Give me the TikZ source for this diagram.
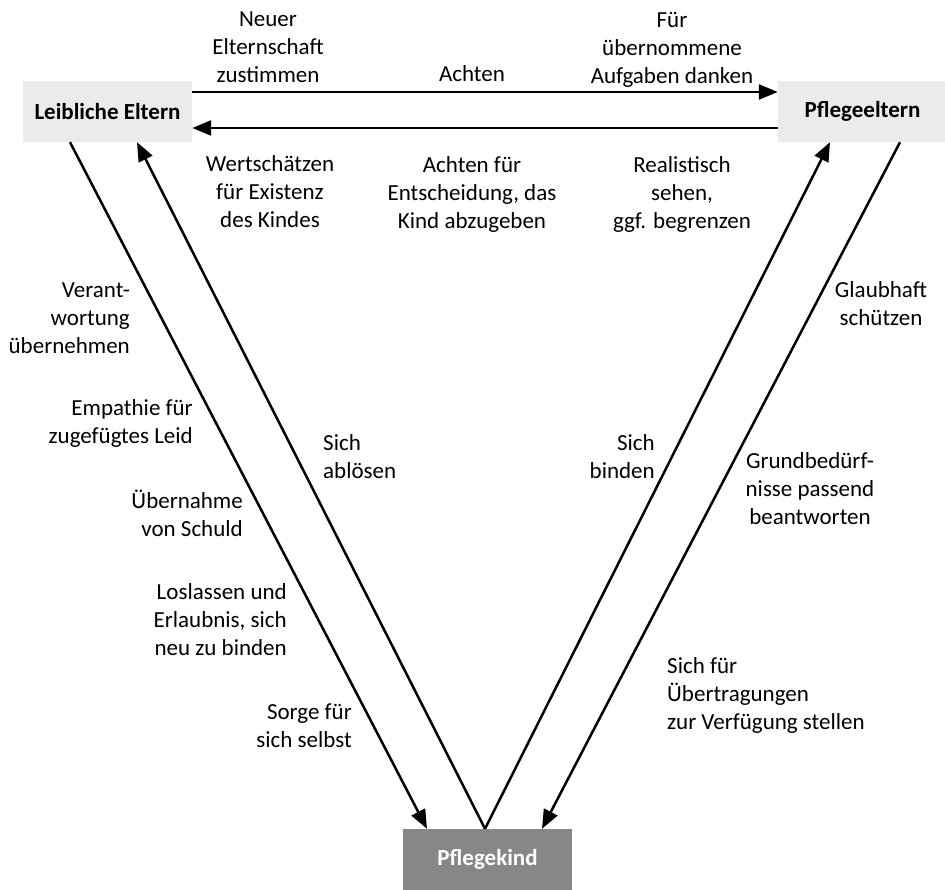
\documentclass[tikz,border=0pt]{standalone}
\usepackage{fontspec}
\setmainfont{Carlito}
\usetikzlibrary{arrows.meta,positioning}

\begin{document}
\begin{tikzpicture}[x=1pt,y=1pt,>={Triangle[length=19pt,width=15pt]},
	every node/.style={font=\fontsize{23}{28}\selectfont},
	box/.style={fill=black!8,minimum width=169pt,minimum height=61pt,font=\fontsize{23}{28}\selectfont\bfseries},
	kidbox/.style={box,fill=black!47,text=white},
	lbl/.style={align=center,inner sep=0pt},
	conn/.style={line width=2.5pt}]
	\useasboundingbox (0,0) rectangle (945,889);

	\node[box] (le) at (107.5,777.5) {Leibliche Eltern};
	\node[box] (pe) at (862.5,777.5) {Pflegeeltern};
	\node[kidbox] (pk) at (487.5,29.5) {Pflegekind};

	\path[->,conn]
	([yshift=19.5pt]le.east)  edge ([yshift=19.5pt]pe.west)
	([yshift=-16.5pt]pe.west) edge ([yshift=-16.5pt]le.east)
	([xshift=-37.5pt]le.south) edge ([xshift=-60.5pt]pk.north)
	([xshift=-2.5pt]pk.north) edge ([xshift=29.5pt]le.south)
	([xshift=-2.5pt]pk.north) edge ([xshift=-32.5pt]pe.south)
	([xshift=37.5pt]pe.south) edge ([xshift=54.5pt]pk.north);

	% oben
	\node[lbl] (zust) at (268,841.5) {Neuer\\Elternschaft\\zustimmen};
	\node[lbl,anchor=base] (acht) at (472,807) {Achten};
	\node[lbl] (dank) at (672,839) {Für\\übernommene\\Aufgaben danken};
	\node[lbl] (wert) at (270,697) {Wertschätzen\\für Existenz\\des Kindes};
	\node[lbl] (entsch) at (472,695) {Achten für\\Entscheidung, das\\Kind abzugeben};
	\node[lbl] (real) at (682,695) {Realistisch\\sehen,\\ggf. begrenzen};

	% links
	\node[lbl,align=right,anchor=east] (verant) at (130,571) {Verant-\\wortung\\übernehmen};
	\node[lbl,align=right,anchor=east] (empa) at (193,466) {Empathie für\\zugefügtes Leid};
	\node[lbl,align=right,anchor=east] (schuld) at (243,376) {Übernahme\\von Schuld};
	\node[lbl,align=right,anchor=east] (los) at (287,269) {Loslassen und\\Erlaubnis, sich\\neu zu binden};
	\node[lbl,align=right,anchor=east] (sorge) at (352,163) {Sorge für\\sich selbst};
	\node[lbl,align=left,anchor=west] (abl) at (323,432) {Sich\\ablösen};

	% rechts
	\node[lbl,align=right,anchor=east] (bind) at (655,432) {Sich\\binden};
	\node[lbl] (schutz) at (881,585) {Glaubhaft\\schützen};
	\node[lbl] (grund) at (810,400) {Grundbedürf-\\nisse passend\\beantworten};
	\node[lbl,align=left,anchor=west] (uebertr) at (667,194) {Sich für\\Übertragungen\\zur Verfügung stellen};
\end{tikzpicture}
\end{document}
